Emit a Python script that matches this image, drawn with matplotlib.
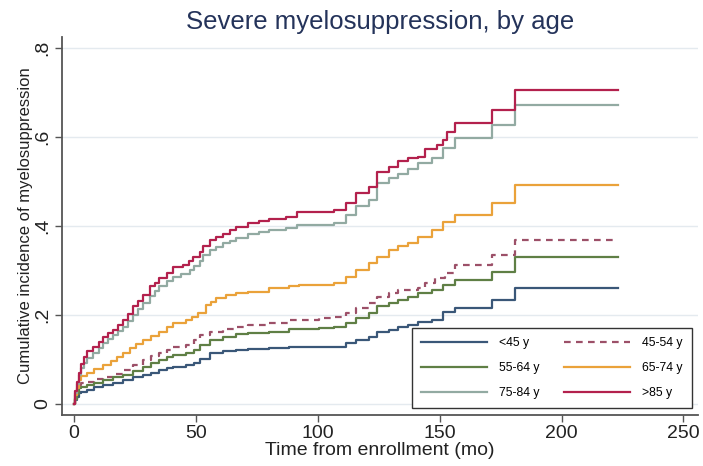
import matplotlib
matplotlib.use("Agg")
import matplotlib.pyplot as plt

plt.rcParams["font.family"] = ["Liberation Sans", "DejaVu Sans"]

# Cumulative incidence step curves by age group (time in months)
t_lt45 = [0, 0.5, 1, 1.8, 3, 5.2, 8, 12, 16, 20, 24, 28.3, 31.5, 35, 38, 40.6, 46, 49, 51.5,
          55.6, 61, 66.5, 71.2, 80, 88, 100.5, 106.6, 111.4, 115.5, 121, 124.3, 129, 133,
          137, 141, 146.8, 151.5, 156.3, 171.3, 181, 223]
v_lt45 = [0, 0.008, 0.015, 0.024, 0.027, 0.031, 0.037, 0.043, 0.048, 0.054, 0.06, 0.065, 0.07,
          0.076, 0.08, 0.084, 0.088, 0.091, 0.1, 0.114, 0.118, 0.121, 0.123, 0.125, 0.129,
          0.129, 0.129, 0.136, 0.144, 0.151, 0.162, 0.166, 0.174, 0.178, 0.185, 0.189, 0.206,
          0.215, 0.234, 0.26, 0.26]

t_45_54 = [0, 0.5, 1, 1.8, 3, 5.2, 8, 12, 16, 20, 24, 28.3, 31.5, 35, 38, 40.6, 46, 49, 51.5,
           55.6, 61, 66.5, 71.2, 80, 88, 100.5, 106.6, 111.4, 115.5, 121, 124.3, 129, 133,
           141, 144, 148, 152, 156.3, 171.3, 181, 223]
v_45_54 = [0, 0.015, 0.028, 0.043, 0.047, 0.05, 0.055, 0.061, 0.068, 0.076, 0.087, 0.099, 0.107,
           0.114, 0.122, 0.129, 0.133, 0.144, 0.155, 0.162, 0.168, 0.174, 0.178, 0.183, 0.189,
           0.193, 0.196, 0.204, 0.215, 0.226, 0.241, 0.249, 0.256, 0.26, 0.271, 0.282, 0.294,
           0.312, 0.335, 0.369, 0.369]

t_55_64 = [0, 0.5, 1, 1.8, 3, 5.2, 8, 12, 16, 20, 24, 28.3, 31.5, 35, 38, 40.6, 46, 49, 51.5,
           55.6, 61, 66.5, 71.2, 80, 88, 100.5, 106.6, 111.4, 115.5, 121, 124.3, 129, 133,
           137, 141, 146.8, 151.5, 156.3, 171.3, 181, 223]
v_55_64 = [0, 0.012, 0.022, 0.035, 0.039, 0.043, 0.048, 0.054, 0.06, 0.065, 0.074, 0.084, 0.092,
           0.099, 0.105, 0.11, 0.114, 0.121, 0.133, 0.144, 0.151, 0.157, 0.16, 0.162, 0.168,
           0.17, 0.174, 0.181, 0.193, 0.204, 0.219, 0.226, 0.234, 0.241, 0.249, 0.256, 0.267,
           0.279, 0.297, 0.331, 0.331]

t_65_74 = [0, 0.5, 1, 1.8, 3, 5.2, 8, 12, 15, 17.4, 20, 22.9, 25.5, 28.3, 31.5, 35, 38, 40.6,
           46, 48.5, 50.8, 54.2, 56, 58.3, 62.4, 66.5, 71.2, 80, 88, 92.3, 106.6, 111.4, 115.5,
           121, 124.3, 129, 133, 137, 141, 146.8, 151.5, 156.3, 171.3, 181, 223]
v_65_74 = [0, 0.02, 0.035, 0.054, 0.062, 0.069, 0.078, 0.088, 0.097, 0.106, 0.115, 0.125, 0.135,
           0.144, 0.153, 0.162, 0.172, 0.181, 0.189, 0.196, 0.204, 0.222, 0.23, 0.237, 0.245,
           0.249, 0.252, 0.26, 0.264, 0.267, 0.271, 0.286, 0.301, 0.316, 0.331, 0.346, 0.354,
           0.361, 0.376, 0.391, 0.41, 0.425, 0.451, 0.492, 0.492]

t_75_84 = [0, 0.5, 1, 2, 3, 4, 5.2, 7.9, 10, 12, 14, 16, 18, 20, 22, 24, 26, 28.3, 31, 33, 35,
           38, 40.6, 44, 47.4, 49, 51.5, 53, 55.6, 58, 61, 64, 66.5, 71.2, 76, 80, 86.9, 91.6,
           106.6, 111.4, 115.5, 121, 124.3, 129, 133, 137, 141, 146.7, 151.5, 156.3, 171.3,
           181, 223]
v_75_84 = [0, 0.025, 0.045, 0.065, 0.08, 0.092, 0.103, 0.115, 0.126, 0.136, 0.147, 0.155, 0.165,
           0.174, 0.187, 0.2, 0.213, 0.226, 0.243, 0.254, 0.264, 0.277, 0.286, 0.293, 0.3, 0.31,
           0.322, 0.334, 0.346, 0.353, 0.361, 0.366, 0.372, 0.383, 0.387, 0.391, 0.395, 0.402,
           0.406, 0.425, 0.444, 0.458, 0.496, 0.507, 0.518, 0.529, 0.541, 0.552, 0.575, 0.597,
           0.627, 0.672, 0.672]

t_gt85 = [0, 0.5, 1, 2, 3, 4, 5.2, 7.9, 10, 12, 14, 16, 18, 20, 22, 24, 26, 28.3, 31, 33, 35,
          38, 40.6, 44.6, 47, 48.7, 51.5, 53, 55.6, 58, 61, 64, 66.5, 71.2, 76, 80, 86.9, 91.6,
          106.6, 111.4, 115.5, 121, 124.3, 129, 133, 137, 141, 144, 149, 151.5, 153, 156.3,
          171.3, 181, 223]
v_gt85 = [0, 0.03, 0.05, 0.07, 0.09, 0.105, 0.118, 0.129, 0.14, 0.151, 0.16, 0.166, 0.178, 0.189,
          0.203, 0.219, 0.232, 0.245, 0.264, 0.272, 0.282, 0.295, 0.307, 0.312, 0.322, 0.331,
          0.342, 0.355, 0.369, 0.375, 0.383, 0.39, 0.398, 0.407, 0.411, 0.415, 0.421, 0.431,
          0.436, 0.452, 0.475, 0.487, 0.522, 0.532, 0.547, 0.552, 0.556, 0.574, 0.582, 0.593,
          0.612, 0.631, 0.661, 0.706, 0.706]

group_labels = ["<45 y", "45-54 y", "55-64 y", "65-74 y", "75-84 y", ">85 y"]
x_ticks = [0, 50, 100, 150, 200, 250]
y_ticks = [0, 0.2, 0.4, 0.6, 0.8]
y_tick_labels = ["0", ".2", ".4", ".6", ".8"]

series = [
    (t_lt45, v_lt45, "#3a5778", "-"),
    (t_45_54, v_45_54, "#9c5068", (0, (3.0, 2.4))),
    (t_55_64, v_55_64, "#5f7f45", "-"),
    (t_65_74, v_65_74, "#eaa23a", "-"),
    (t_75_84, v_75_84, "#92aaa2", "-"),
    (t_gt85, v_gt85, "#b3214d", "-"),
]

fig = plt.figure(figsize=(7.03, 4.66), dpi=100)
ax = fig.add_axes([62 / 703, 51 / 466, 636 / 703, 378 / 466])

handles = []
for (t, v, color, ls), label in zip(series, group_labels):
    ln, = ax.plot(t, v, drawstyle="steps-post", color=color, linestyle=ls, lw=1.6, label=label)
    handles.append(ln)

ax.set_xlim(-5, 256)
ax.set_ylim(-0.025, 0.825)
ax.set_xticks(x_ticks)
ax.set_yticks(y_ticks)
ax.set_yticklabels(y_tick_labels, rotation=90, va="center")
ax.tick_params(axis="both", labelsize=14, length=5, width=1, color="#555555",
               labelcolor="#222222", direction="out")
ax.tick_params(axis="x", pad=2)
ax.tick_params(axis="y", pad=3)

ax.grid(axis="y", color="#e4eaef", lw=1)
ax.set_axisbelow(True)
for side in ("top", "right"):
    ax.spines[side].set_visible(False)
for side in ("left", "bottom"):
    ax.spines[side].set_color("#555555")
    ax.spines[side].set_linewidth(1.3)

ax.set_title("Severe myelosuppression, by age", fontsize=18.5, color="#24335a", pad=6)
ax.set_xlabel("Time from enrollment (mo)", fontsize=14, color="#222222", labelpad=0)
ax.set_ylabel("Cumulative incidence of myelosuppression", fontsize=12, color="#222222",
              labelpad=1)

# two-column legend filled row by row
order = [0, 2, 4, 1, 3, 5]
leg = ax.legend([handles[i] for i in order], [group_labels[i] for i in order],
                ncol=2, loc="lower right",
                bbox_to_anchor=(692 / 703, 58 / 466), bbox_transform=fig.transFigure,
                borderaxespad=0, fontsize=8.8, handlelength=5.4, handletextpad=1.0,
                columnspacing=2.0, labelspacing=1.05, borderpad=0.75, fancybox=False,
                framealpha=1, edgecolor="#333333")
leg.get_frame().set_linewidth(1.0)

fig.savefig("out.png", dpi=100)
